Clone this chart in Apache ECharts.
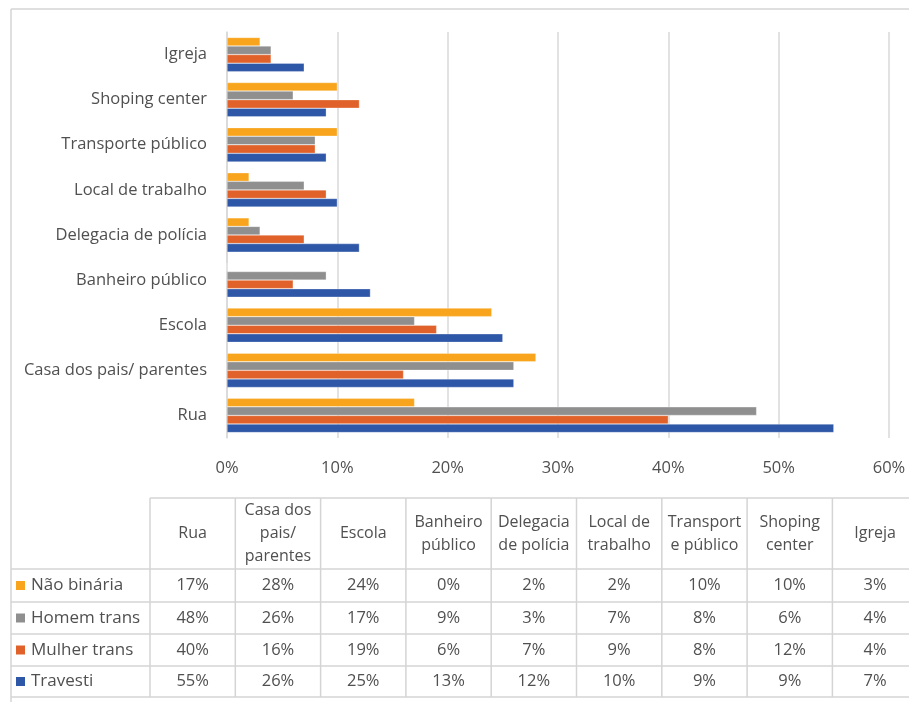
<!DOCTYPE html>
<html><head><meta charset="utf-8">
<script src="https://cdn.jsdelivr.net/npm/echarts@6/dist/echarts.min.js"></script>
<style>html,body{margin:0;padding:0;background:#fff}#c{width:909px;height:702px}</style>
</head><body><div id="c"></div>
<script>
var categories = ['Rua','Casa dos pais/ parentes','Escola','Banheiro público','Delegacia de polícia','Local de trabalho','Transporte público','Shoping center','Igreja'];
var tableHeaders = ['Rua','Casa dos\npais/\nparentes','Escola','Banheiro\npúblico','Delegacia\nde polícia','Local de\ntrabalho','Transport\ne público','Shoping\ncenter','Igreja'];
var naoBinaria = [17,28,24,0,2,2,10,10,3];
var homemTrans = [48,26,17,9,3,7,8,6,4];
var mulherTrans = [40,16,19,6,7,9,8,12,4];
var travesti = [55,26,25,13,12,10,9,9,7];
var xTicks = [0,10,20,30,40,50,60];

var FONT = '"Open Sans", sans-serif';
var TXT = '#505050';
var FS = 16.5;
var tableRows = [
  {name:'Não binária', color:'#F8A51D', data:naoBinaria},
  {name:'Homem trans', color:'#8F8F8F', data:homemTrans},
  {name:'Mulher trans', color:'#E0622A', data:mulherTrans},
  {name:'Travesti', color:'#2F57A7', data:travesti}
];

var colX0 = 150, colW = 85.3, legX0 = 11;
var rowEdges = [498, 569, 602, 634, 666, 697];
var LINE = '#D4D4D4';
var graphics = [];
graphics.push({type:'line', shape:{x1:11,y1:9,x2:909,y2:9}, style:{stroke:LINE, lineWidth:1.5}, silent:true});
graphics.push({type:'line', shape:{x1:11,y1:9,x2:11,y2:702}, style:{stroke:LINE, lineWidth:1.5}, silent:true});
var tableRight = colX0 + colW*tableHeaders.length;
graphics.push({type:'line', shape:{x1:colX0,y1:rowEdges[0],x2:tableRight,y2:rowEdges[0]}, style:{stroke:LINE, lineWidth:1.5}, silent:true});
for (var r=1;r<rowEdges.length;r++){
  graphics.push({type:'line', shape:{x1:legX0,y1:rowEdges[r],x2:tableRight,y2:rowEdges[r]}, style:{stroke:LINE, lineWidth:1.5}, silent:true});
}
for (var c=0;c<=tableHeaders.length;c++){
  var x = colX0 + c*colW;
  graphics.push({type:'line', shape:{x1:x,y1:rowEdges[0],x2:x,y2:rowEdges[rowEdges.length-1]}, style:{stroke:LINE, lineWidth:1.5}, silent:true});
}
tableHeaders.forEach(function(h,i){
  graphics.push({type:'text', x: colX0 + colW*(i+0.5), y:(rowEdges[0]+rowEdges[1])/2,
    style:{text:h, fill:TXT, font:'16px '+FONT, align:'center', verticalAlign:'middle', lineHeight:23}, silent:true});
});
tableRows.forEach(function(row,ri){
  var yc = (rowEdges[ri+1]+rowEdges[ri+2])/2;
  graphics.push({type:'rect', shape:{x:16,y:yc-4.5,width:9,height:9}, style:{fill:row.color}, silent:true});
  graphics.push({type:'text', x:31, y:yc, style:{text:row.name, fill:TXT, font:'17px '+FONT, align:'left', verticalAlign:'middle'}, silent:true});
  row.data.forEach(function(v,ci){
    graphics.push({type:'text', x: colX0 + colW*(ci+0.5), y:yc, style:{text:v+'%', fill:TXT, font:FS+'px '+FONT, align:'center', verticalAlign:'middle'}, silent:true});
  });
});

var chart = echarts.init(document.getElementById('c'), null, {renderer:'canvas'});
function bar(name, color, data){
  return {name:name, type:'bar', data:data, barGap:'0%', barCategoryGap:'24%',
    itemStyle:{color:color, borderColor:'rgba(255,255,255,0.6)', borderWidth:0.5}, silent:true};
}
chart.setOption({
  animation:false,
  backgroundColor:'#fff',
  grid:{left:227, right:20, top:32, bottom:264, containLabel:false},
  xAxis:{type:'value', min:xTicks[0], max:xTicks[xTicks.length-1], interval:10,
    axisLabel:{formatter:'{value}%', color:TXT, fontFamily:FONT, fontSize:FS, margin:22},
    axisLine:{show:false}, axisTick:{show:false},
    splitLine:{lineStyle:{color:'#D9D9D9', width:1.5}}},
  yAxis:{type:'category', data:categories,
    axisLabel:{color:TXT, fontFamily:FONT, fontSize:FS, margin:20},
    axisLine:{show:true, lineStyle:{color:'#D9D9D9', width:1.5}}, axisTick:{show:false}},
  series:[
    bar('Não binária', tableRows[0].color, naoBinaria),
    bar('Homem trans', tableRows[1].color, homemTrans),
    bar('Mulher trans', tableRows[2].color, mulherTrans),
    bar('Travesti', tableRows[3].color, travesti)
  ],
  graphic:graphics
});
</script>
</body></html>
